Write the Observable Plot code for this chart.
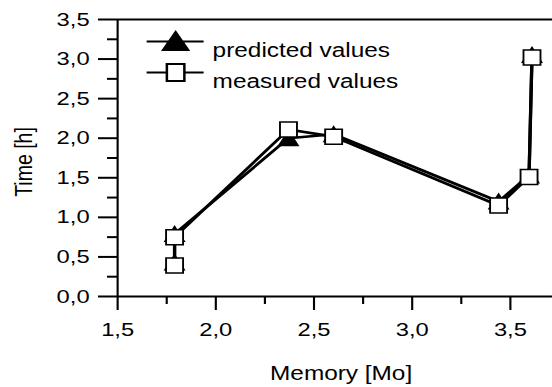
<!DOCTYPE html>
<html>
<head>
<meta charset="utf-8">
<script src="https://cdn.jsdelivr.net/npm/d3@7"></script>
<script src="https://cdn.jsdelivr.net/npm/@observablehq/plot@0.6"></script>
<style>
  html, body { margin: 0; padding: 0; background: #fff; overflow: hidden; }
  #chart svg { transform: scaleX(1.25); transform-origin: 0 0; display: block; }
</style>
</head>
<body>
<div id="chart"></div>
<script>
// ---- data ----
const memory    = [1.79, 1.79, 2.37, 2.6, 3.44, 3.595, 3.61];
const predicted = [0.43, 0.79, 2.0, 2.05, 1.2, 1.53, 3.05];
const measured  = [0.39, 0.75, 2.11, 2.02, 1.15, 1.51, 3.02];
const seriesNames = ["predicted values", "measured values"];
const xTicks = [1.5, 2.0, 2.5, 3.0, 3.5];
const xMinor = [1.75, 2.25, 2.75, 3.25];
const yTicks = [0, 0.5, 1.0, 1.5, 2.0, 2.5, 3.0, 3.5];
const yMinor = [0.25, 0.75, 1.25, 1.75, 2.25, 2.75, 3.25];
const xLabel = "Memory [Mo]";
const yLabel = "Time [h]";

const predRows = memory.map((m, i) => ({memory: m, time: predicted[i]}));
const measRows = memory.map((m, i) => ({memory: m, time: measured[i]}));
const fmt = d => d.toFixed(1).replace(".", ",");

// The original figure is stretched horizontally by ~1.25; the SVG is drawn
// narrower and widened with a CSS scaleX so text and markers stretch alike.
const S = 1.25;
const triangle = {draw(c) { c.moveTo(0, -9); c.lineTo(8.8, 8); c.lineTo(-8.8, 8); c.closePath(); }};
const square = {draw(c) { c.rect(-6.8, -7.5, 13.6, 15); }};
const legTriangle = {draw(c) {
  c.moveTo(-23.2, 0); c.lineTo(22.4, 0);
  c.moveTo(0, -9.5); c.lineTo(10, 8.5); c.lineTo(-10, 8.5); c.closePath();
}};
const legSquare = {draw(c) {
  c.moveTo(-23.2, 0); c.lineTo(-7, 0);
  c.moveTo(7, 0); c.lineTo(22.4, 0);
  c.rect(-7, -8.5, 14, 17);
}};

const chart = Plot.plot({
  width: 552 / S,
  height: 387,
  marginLeft: 117 / S,
  marginRight: 0,
  marginTop: 19,
  marginBottom: 91,
  style: {fontFamily: "'Liberation Sans', Arial, sans-serif", fontSize: "19px", color: "#000", background: "#fff"},
  x: {domain: [1.5, 3.715]},
  y: {domain: [0, 3.5]},
  marks: [
    // axes
    Plot.axisX({ticks: xTicks, tickSize: 14, tickPadding: 12, tickFormat: fmt, strokeWidth: 1.7, fontSize: 19, label: null}),
    Plot.axisX({ticks: xMinor, tickSize: 8, text: null, strokeWidth: 1.7, label: null}),
    Plot.axisY({ticks: yTicks, tickSize: 19 / S, tickPadding: 9 / S, tickFormat: fmt, strokeWidth: 2, fontSize: 19, label: null}),
    Plot.axisY({ticks: yMinor, tickSize: 10 / S, text: null, strokeWidth: 2, label: null}),
    Plot.ruleX([1.5], {strokeWidth: 1.7}),
    Plot.ruleY([0, 3.5], {strokeWidth: 2}),
    Plot.text([xLabel], {frameAnchor: "bottom", dx: 6 / S, dy: 84, fontSize: 19.5}),
    Plot.text([yLabel], {frameAnchor: "left", rotate: -90, textAnchor: "middle", dx: -93 / S, dy: 4, fontSize: 19.5}),
    // predicted series
    Plot.line(predRows, {x: "memory", y: "time", stroke: "#000", strokeWidth: 2.6}),
    Plot.dot(predRows, {x: "memory", y: "time", symbol: triangle, r: 5, fill: "#000", stroke: "none"}),
    // measured series
    Plot.line(measRows, {x: "memory", y: "time", stroke: "#000", strokeWidth: 2.6}),
    Plot.dot(measRows, {x: "memory", y: "time", symbol: square, r: 5, fill: "#fff", stroke: "#000", strokeWidth: 1.5}),
    // legend
    Plot.dot([seriesNames[0]], {frameAnchor: "top-left", dx: 58 / S, dy: 22, symbol: legTriangle, r: 5, fill: "#000", stroke: "#000", strokeWidth: 2}),
    Plot.dot([seriesNames[1]], {frameAnchor: "top-left", dx: 58 / S, dy: 53, symbol: legSquare, r: 5, fill: "#fff", stroke: "#000", strokeWidth: 2}),
    Plot.text([seriesNames[0]], {frameAnchor: "top-left", dx: 95 / S, dy: 23.5, textAnchor: "start", text: d => d, fontSize: 19.5}),
    Plot.text([seriesNames[1]], {frameAnchor: "top-left", dx: 95 / S, dy: 55, textAnchor: "start", text: d => d, fontSize: 19.5})
  ]
});
document.getElementById("chart").append(chart);
</script>
</body>
</html>
